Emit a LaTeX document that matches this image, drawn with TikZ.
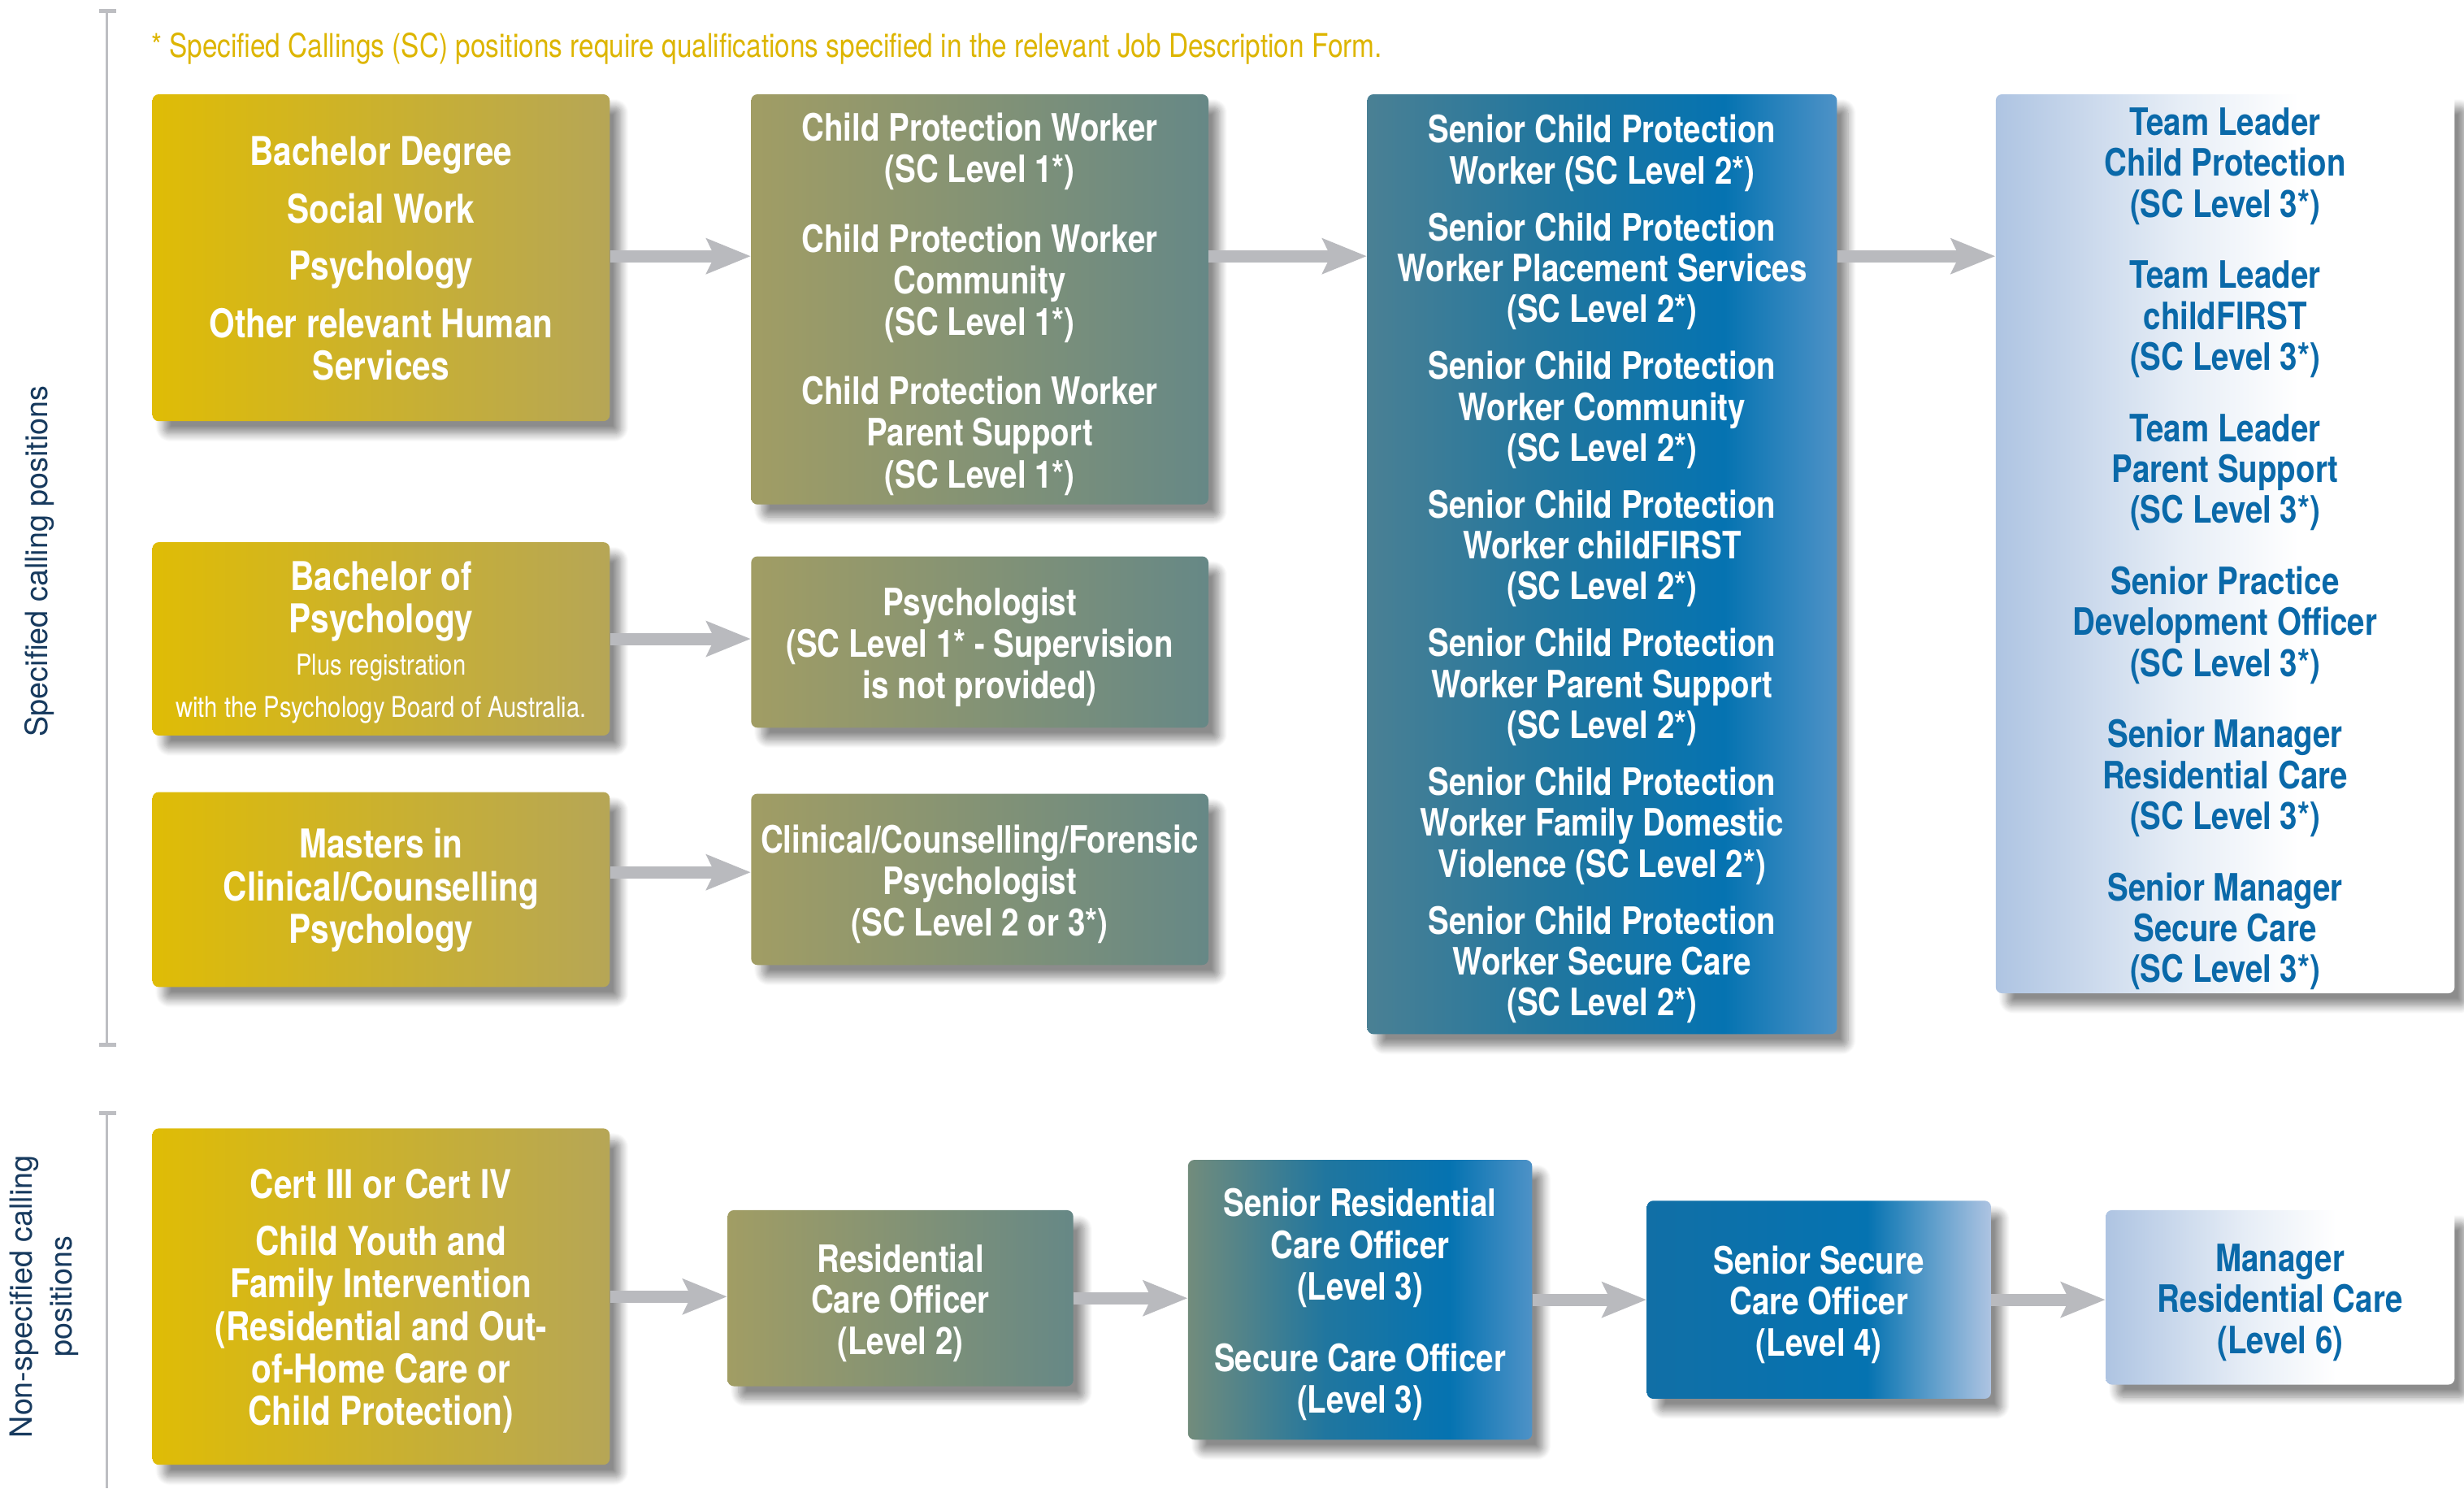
\documentclass[tikz,border=0pt]{standalone}
\usepackage{fontspec}
\usetikzlibrary{arrows.meta,shadows,shadows.blur}
\newfontfamily\heroscn{TeX Gyre Heros}[FakeStretch=0.83]
\newfontfamily\heros{TeX Gyre Heros}
\newcommand\tS{\rule{0pt}{24.2pt}}
\newcommand\bS{\rule[-5pt]{0pt}{5pt}}
\definecolor{yL}{HTML}{DFBC06}
\definecolor{yR}{HTML}{B6A656}
\definecolor{oL}{HTML}{A19D64}
\definecolor{oR}{HTML}{668886}
\definecolor{tL}{HTML}{4A8094}
\definecolor{tM}{HTML}{20769F}
\definecolor{bB}{HTML}{0573B1}
\definecolor{bR}{HTML}{4E92C7}
\definecolor{lbL}{HTML}{AEC4E2}
\definecolor{lbM}{HTML}{E6EDF6}
\definecolor{iL}{HTML}{728C7C}
\definecolor{jL}{HTML}{116FA6}
\definecolor{arrowgray}{HTML}{B9BABE}
\definecolor{brkgray}{HTML}{BDBEC2}
\definecolor{navy}{HTML}{173A5E}
\definecolor{gold}{HTML}{DDB500}
\definecolor{txtblue}{HTML}{0A69A9}
\pgfdeclarehorizontalshading{yellowgrad}{100bp}{color(0bp)=(yL); color(25bp)=(yL); color(75bp)=(yR); color(100bp)=(yR)}
\pgfdeclarehorizontalshading{olivegrad}{100bp}{color(0bp)=(oL); color(25bp)=(oL); color(75bp)=(oR); color(100bp)=(oR)}
\pgfdeclarehorizontalshading{tealgrad}{100bp}{color(0bp)=(tL); color(25bp)=(tL); color(45bp)=(tM); color(63bp)=(bB); color(75bp)=(bR); color(100bp)=(bR)}
\pgfdeclarehorizontalshading{lightgrad}{100bp}{color(0bp)=(lbL); color(25bp)=(lbL); color(45bp)=(lbM); color(58bp)=(white); color(100bp)=(white)}
\pgfdeclarehorizontalshading{igrad}{100bp}{color(0bp)=(iL); color(25bp)=(iL); color(45bp)=(tM); color(63bp)=(bB); color(75bp)=(bR); color(100bp)=(bR)}
\pgfdeclarehorizontalshading{jgrad}{100bp}{color(0bp)=(jL); color(25bp)=(jL); color(57bp)=(bB); color(75bp)=(lbL); color(100bp)=(lbL)}
\tikzset{
  box/.style={rounded corners=4pt, inner sep=0pt, align=center, text=white,
    font=\heroscn\bfseries\fontsize{24}{26.5}\selectfont,
    blur shadow={shadow xshift=7pt, shadow yshift=-8pt, shadow blur radius=5pt, shadow blur steps=10, shadow opacity=45}},
  qualbox/.style={box, shading=yellowgrad, minimum width=291pt, font=\heroscn\bfseries\fontsize{25.3}{27}\selectfont},
  arr/.style={draw=arrowgray, line width=7.8pt, -{Stealth[length=28pt,width=22pt,inset=5pt]}},
  brk/.style={draw=brkgray, line width=2pt},
  tick/.style={draw=brkgray, line width=2.6pt},
  sidelabel/.style={rotate=90, text=navy, align=center, font=\heros\fontsize{19.5}{25}\selectfont},
}
\begin{document}
\begin{tikzpicture}[x=1pt,y=-1pt]
\useasboundingbox (0,0) rectangle (1568,947);
% brackets
\draw[brk] (68,7) -- (68,665);
\draw[tick] (63,7) -- (74,7);
\draw[tick] (63,665) -- (74,665);
\draw[brk] (68,708) -- (68,947);
\draw[tick] (63,708) -- (74,708);
\node[sidelabel] (lab1) at (25,357) {Specified calling positions};
\node[sidelabel] (lab2) at (28,825) {Non-specified calling\\positions};
\node[anchor=west, text=gold, inner sep=0pt, font=\heroscn\fontsize{20.8}{22}\selectfont] (note) at (96,31)
  {* Specified Callings (SC) positions require qualifications specified in the relevant Job Description Form.};
% column 1
\node[qualbox, minimum height=208pt] (A) at (242.5,164)
  {\tS Bachelor Degree\\[9.5pt] Social Work\\[9.5pt] Psychology\\[9.5pt] Other relevant Human\\ Services\bS};
\node[qualbox, minimum height=123pt] (B) at (242.5,406.5)
  {\tS Bachelor of\\ Psychology\\ {\mdseries\fontsize{18.2}{20}\selectfont Plus registration}\\
   {\mdseries\fontsize{18.2}{20}\selectfont with the Psychology Board of Australia.}\bS};
\node[qualbox, minimum height=124pt] (C) at (242.5,566)
  {\tS Masters in\\ Clinical/Counselling\\ Psychology\rule[-10pt]{0pt}{10pt}};
\node[qualbox, minimum height=214pt] (D) at (242.5,825)
  {\tS Cert III or Cert IV\\[9.5pt] Child Youth and\\ Family Intervention\\ (Residential and Out-\\ of-Home Care or\\ Child Protection)\bS};
% column 2
\node[box, shading=olivegrad, minimum width=291pt, minimum height=261pt] (E) at (623.5,190.5)
  {\tS Child Protection Worker\\ (SC Level 1*)\\[17.5pt] Child Protection Worker\\ Community\\ (SC Level 1*)\\[17.5pt]
   Child Protection Worker\\ Parent Support\\ (SC Level 1*)\bS};
\node[box, shading=olivegrad, minimum width=291pt, minimum height=109pt] (F) at (623.5,408.5)
  {\tS Psychologist\\ (SC Level 1* - Supervision\\ is not provided)\bS};
\node[box, shading=olivegrad, minimum width=291pt, minimum height=109pt] (G) at (623.5,559.5)
  {\tS Clinical/Counselling/Forensic\\ Psychologist\\ (SC Level 2 or 3*)\bS};
% column 3
\node[box, shading=tealgrad, minimum width=299pt, minimum height=598pt,
  font=\heroscn\bfseries\fontsize{24}{26}\selectfont] (S) at (1019.5,359)
  {\tS Senior Child Protection\\ Worker (SC Level 2*)\\[10.2pt]
   Senior Child Protection\\ Worker Placement Services\\ (SC Level 2*)\\[10.2pt]
   Senior Child Protection\\ Worker Community\\ (SC Level 2*)\\[10.2pt]
   Senior Child Protection\\ Worker childFIRST\\ (SC Level 2*)\\[10.2pt]
   Senior Child Protection\\ Worker Parent Support\\ (SC Level 2*)\\[10.2pt]
   Senior Child Protection\\ Worker Family Domestic\\ Violence (SC Level 2*)\\[10.2pt]
   Senior Child Protection\\ Worker Secure Care\\ (SC Level 2*)\bS};
% column 4
\node[box, shading=lightgrad, minimum width=292pt, minimum height=572pt, text=txtblue,
  font=\heroscn\bfseries\fontsize{24}{26}\selectfont] (T) at (1416,346)
  {\tS Team Leader\\ Child Protection\\ (SC Level 3*)\\[19.4pt]
   Team Leader\\ childFIRST\\ (SC Level 3*)\\[19.4pt]
   Team Leader\\ Parent Support\\ (SC Level 3*)\\[19.4pt]
   Senior Practice\\ Development Officer\\ (SC Level 3*)\\[19.4pt]
   Senior Manager\\ Residential Care\\ (SC Level 3*)\\[19.4pt]
   Senior Manager\\ Secure Care\\ (SC Level 3*)\bS};
% bottom row
\node[box, shading=olivegrad, minimum width=220pt, minimum height=112pt,
  font=\heroscn\bfseries\fontsize{24}{26}\selectfont] (H) at (573,826)
  {\tS Residential\\ Care Officer\\ (Level 2)\bS};
\node[box, shading=igrad, minimum width=219pt, minimum height=178pt] (I) at (865.5,827)
  {\tS Senior Residential\\ Care Officer\\ (Level 3)\\[19pt] Secure Care Officer\\ (Level 3)\bS};
\node[box, shading=jgrad, minimum width=219pt, minimum height=126pt,
  font=\heroscn\bfseries\fontsize{24}{26}\selectfont] (J) at (1157.5,827)
  {\tS Senior Secure\\ Care Officer\\ (Level 4)\bS};
\node[box, shading=lightgrad, minimum width=222pt, minimum height=111pt, text=txtblue,
  font=\heroscn\bfseries\fontsize{24}{26}\selectfont] (K) at (1451,825.5)
  {\tS Manager\\ Residential Care\\ (Level 6)\bS};
% arrows
\coordinate (a1) at (388.5,163);
\coordinate (c1) at (388.5,555);
\draw[arr] (a1) -- (a1 -| E.west);
\draw[arr] (B.east) -- (B.east -| F.west);
\draw[arr] (c1) -- (c1 -| G.west);
\draw[arr] (a1 -| E.east) -- (a1 -| S.west);
\draw[arr] (a1 -| S.east) -- (a1 -| T.west);
\draw[arr] (D.east) -- (D.east -| H.west);
\draw[arr] (H.east) -- (H.east -| I.west);
\draw[arr] (I.east) -- (I.east -| J.west);
\draw[arr] (J.east) -- (J.east -| K.west);
\end{tikzpicture}
\end{document}
